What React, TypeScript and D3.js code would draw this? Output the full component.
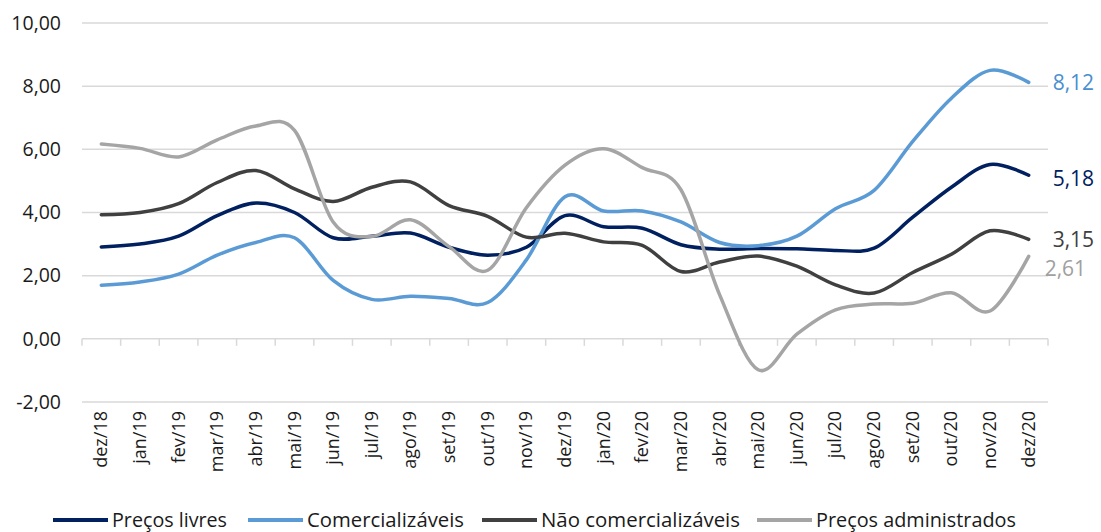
import { scaleLinear, scaleBand, line, curveCardinal } from 'd3';

const months = [
  'dez/18', 'jan/19', 'fev/19', 'mar/19', 'abr/19', 'mai/19', 'jun/19', 'jul/19', 'ago/19',
  'set/19', 'out/19', 'nov/19', 'dez/19', 'jan/20', 'fev/20', 'mar/20', 'abr/20', 'mai/20',
  'jun/20', 'jul/20', 'ago/20', 'set/20', 'out/20', 'nov/20', 'dez/20',
];

const precosLivres = [
  2.91, 3.0, 3.25, 3.9, 4.3, 4.0, 3.2, 3.25, 3.35, 2.9, 2.65, 2.9, 3.9,
  3.55, 3.5, 2.98, 2.84, 2.86, 2.85, 2.8, 2.87, 3.85, 4.8, 5.52, 5.18,
];
const comercializaveis = [
  1.7, 1.8, 2.05, 2.65, 3.05, 3.2, 1.85, 1.25, 1.35, 1.28, 1.15, 2.5, 4.5,
  4.05, 4.05, 3.7, 3.05, 2.95, 3.25, 4.12, 4.7, 6.25, 7.62, 8.5, 8.12,
];
const naoComercializaveis = [
  3.93, 4.0, 4.28, 4.95, 5.33, 4.75, 4.35, 4.8, 4.97, 4.22, 3.88, 3.22, 3.34,
  3.07, 2.96, 2.13, 2.43, 2.62, 2.3, 1.71, 1.45, 2.1, 2.68, 3.42, 3.15,
];
const precosAdministrados = [
  6.17, 6.03, 5.76, 6.3, 6.74, 6.6, 3.7, 3.24, 3.77, 2.92, 2.17, 4.15, 5.5,
  6.02, 5.42, 4.72, 1.4, -0.98, 0.15, 0.92, 1.1, 1.13, 1.46, 0.88, 2.61,
];

const yTicks = [-2, 0, 2, 4, 6, 8, 10];

const seriesNames = ['Preços livres', 'Comercializáveis', 'Não comercializáveis', 'Preços administrados'];
const seriesColors = ['#002060', '#5B9BD5', '#404040', '#A5A5A5'];
const labelColors = ['#002060', '#4A8FD0', '#404040', '#A0A0A0'];
const seriesData = [precosLivres, comercializaveis, naoComercializaveis, precosAdministrados];

const fmt = (v: number) => v.toFixed(2).replace('.', ',');

export default function App() {
  const width = 1101;
  const height = 532;
  const left = 82;
  const right = 1048;

  const x = scaleBand<string>().domain(months).range([left, right]).padding(0);
  const y = scaleLinear().domain([-2, 10]).range([402, 23]);
  const cx = (m: string) => (x(m) ?? 0) + x.bandwidth() / 2;

  const path = line<number>()
    .x((_, i) => cx(months[i]))
    .y((d) => y(d))
    .curve(curveCardinal.tension(0));

  // end-of-series labels (the gray one nudged down to clear 3,15)
  const labelDx = [24, 24, 24, 16];
  const labelDy = [3, 0, 0, 12];
  const font = "'Open Sans', 'Noto Sans', sans-serif";

  // legend layout
  const legendX = [53, 248, 482, 757];
  const legendTextW = [115, 157, 199, 200];

  return (
    <svg
      width={width}
      height={height}
      style={{ position: 'absolute', left: 0, top: 0, background: '#fff' }}
      fontFamily={font}
    >
      {yTicks.map((t) => (
        <g key={t}>
          {t !== 0 && (
            <line x1={left} x2={right} y1={y(t)} y2={y(t)} stroke="#D9D9D9" strokeWidth={1.5} />
          )}
          <text x={61} y={y(t)} dy="0.35em" textAnchor="end" fontSize={19.5} fill="#1a1a1a">
            {fmt(t)}
          </text>
        </g>
      ))}

      {/* category axis at zero */}
      <line x1={left} x2={right} y1={y(0)} y2={y(0)} stroke="#D9D9D9" strokeWidth={1.5} />
      {months.concat(['']).map((m, i) => {
        const xx = left + i * x.bandwidth();
        return <line key={'t' + i} x1={xx} x2={xx} y1={y(0)} y2={y(0) + 7} stroke="#D9D9D9" strokeWidth={1.5} />;
      })}
      {months.map((m) => (
        <text
          key={m}
          transform={`translate(${cx(m) + 6},${411}) rotate(-90)`}
          textAnchor="end"
          fontSize={18}
          fill="#1a1a1a"
        >
          {m}
        </text>
      ))}

      {seriesData.map((d, s) => (
        <path
          key={seriesNames[s]}
          d={path(d) ?? ''}
          fill="none"
          stroke={seriesColors[s]}
          strokeWidth={3.5}
          strokeLinejoin="round"
          strokeLinecap="round"
        />
      ))}

      {seriesData.map((d, s) => (
        <text
          key={'l' + s}
          x={cx(months[months.length - 1]) + labelDx[s]}
          y={y(d[d.length - 1]) + labelDy[s]}
          dy="0.35em"
          fontSize={21}
          fill={labelColors[s]}
        >
          {fmt(d[d.length - 1])}
        </text>
      ))}

      {seriesNames.map((n, s) => (
        <g key={'lg' + s}>
          <line
            x1={legendX[s]}
            x2={legendX[s] + 55}
            y1={520}
            y2={520}
            stroke={seriesColors[s]}
            strokeWidth={4}
          />
          <text
            x={legendX[s] + 59}
            y={520}
            dy="0.36em"
            fontSize={19.5}
            fill="#1a1a1a"
            textLength={legendTextW[s]}
            lengthAdjust="spacingAndGlyphs"
          >
            {n}
          </text>
        </g>
      ))}
    </svg>
  );
}
